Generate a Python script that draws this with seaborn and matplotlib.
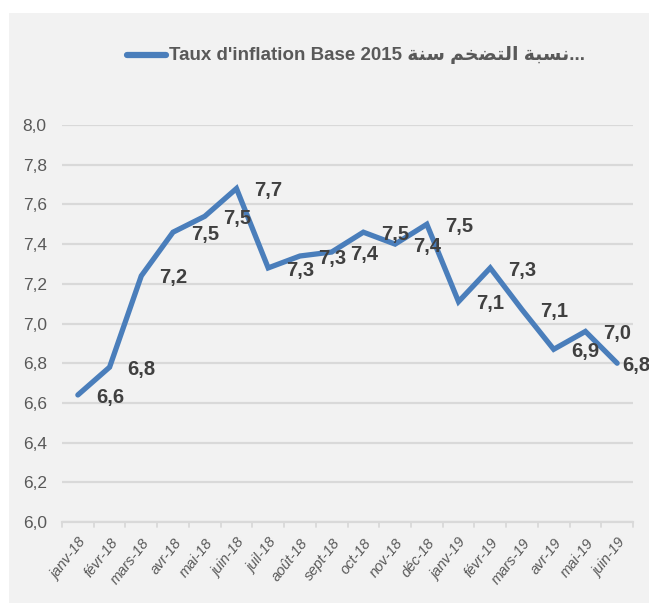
import matplotlib
matplotlib.use("Agg")
import matplotlib.pyplot as plt
import matplotlib.patches as mpatches
import seaborn as sns
import pandas as pd

# ---- data ----
months = ["janv-18", "févr-18", "mars-18", "avr-18", "mai-18", "juin-18",
          "juil-18", "août-18", "sept-18", "oct-18", "nov-18", "déc-18",
          "janv-19", "févr-19", "mars-19", "avr-19", "mai-19", "juin-19"]
inflation = [6.64, 6.78, 7.24, 7.46, 7.54, 7.68,
             7.28, 7.34, 7.36, 7.46, 7.40, 7.50,
             7.11, 7.28, 7.07, 6.87, 6.96, 6.80]
y_ticks = [6.0, 6.2, 6.4, 6.6, 6.8, 7.0, 7.2, 7.4, 7.6, 7.8, 8.0]

# Arabic part of the series name, pre-shaped (presentation forms, visual order)
ar_words_visual = ["\uFE94\uFEE8\uFEB3",                          # سنة
                   "\uFEE2\uFEA8\uFEC0\uFE98\uFEDF\uFE8D",        # التضخم
                   "\uFE94\uFE92\uFEB4\uFEE7"]                    # نسبة
series_name = "Taux d'inflation Base 2015 " + " ".join(ar_words_visual) + "..."

df = pd.DataFrame({"mois": months, "taux": inflation, "serie": series_name})

sns.set_theme(style="white")
FAM = ["Liberation Sans", "DejaVu Sans"]
plt.rcParams["font.family"] = FAM

W, H, DPI = 649, 605, 100
fig = plt.figure(figsize=(W / DPI, H / DPI), dpi=DPI, facecolor="white")
# grey chart area
bg = mpatches.Rectangle((9 / W, 2 / H), 1 - 9 / W, (603 - 13) / H,
                        transform=fig.transFigure, facecolor="#f2f2f2",
                        edgecolor="none", zorder=-10)
fig.add_artist(bg)

ax = fig.add_axes([62 / W, 1 - 522 / H, (633 - 62) / W, (522 - 125) / H])
ax.set_facecolor("#f2f2f2")
ax.patch.set_alpha(0)

blue = "#4a7ebb"
sns.lineplot(data=df, x="mois", y="taux", hue="serie", palette=[blue],
             sort=False, linewidth=3.8, ax=ax, legend=True)
for ln in ax.lines:
    ln.set_solid_capstyle("round")
    ln.set_solid_joinstyle("miter")

ax.set_xlim(-0.5, len(months) - 0.5)
ax.set_ylim(6.0, 8.0)
ax.set_yticks(y_ticks)
ax.set_yticklabels([f"{v:.1f}".replace(".", ",") for v in y_ticks],
                   fontsize=12.5, color="#595959", family=FAM)
ax.set_xticks(range(len(months)))
ax.set_xticklabels(months, rotation=52, ha="right", va="top", rotation_mode="anchor",
                   fontsize=10.5, color="#595959", style="italic", family=FAM)
ax.tick_params(axis="y", length=0, pad=11)
ax.tick_params(axis="x", length=0, pad=10)
ax.set_xlabel("")
ax.set_ylabel("")

# gridlines
ax.yaxis.grid(True, color="#d9d9d9", linewidth=1.6)
ax.set_axisbelow(True)
for s in ["top", "right", "left"]:
    ax.spines[s].set_visible(False)
ax.spines["bottom"].set_color("#d9d9d9")
ax.spines["bottom"].set_linewidth(1.6)
# boundary tick marks between categories
for b in range(len(months) + 1):
    ax.plot([b - 0.5, b - 0.5], [6.0, 5.975], color="#d9d9d9", lw=1.3,
            clip_on=False, zorder=1)

# data labels
for i, v in enumerate(inflation):
    dx = 13 if i < len(inflation) - 1 else 3.5
    ax.annotate(f"{v:.1f}".replace(".", ","), (i, v), xytext=(dx, -1.5),
                textcoords="offset points", ha="left", va="center",
                fontsize=14.5, fontweight="bold", color="#404040", family=FAM)

# legend at top
leg = ax.legend(loc="center", bbox_to_anchor=(356 / W, 1 - 55 / H),
                bbox_transform=fig.transFigure, frameon=False,
                handlelength=2.6, handletextpad=0.2, borderaxespad=0)
for t in leg.get_texts():
    t.set_fontsize(13.5)
    t.set_fontweight("bold")
    t.set_color("#595959")
    t.set_family(FAM)
for h in leg.get_lines():
    h.set_linewidth(4.5)
    h.set_solid_capstyle("round")

fig.savefig("out.png", dpi=DPI, facecolor=fig.get_facecolor())
